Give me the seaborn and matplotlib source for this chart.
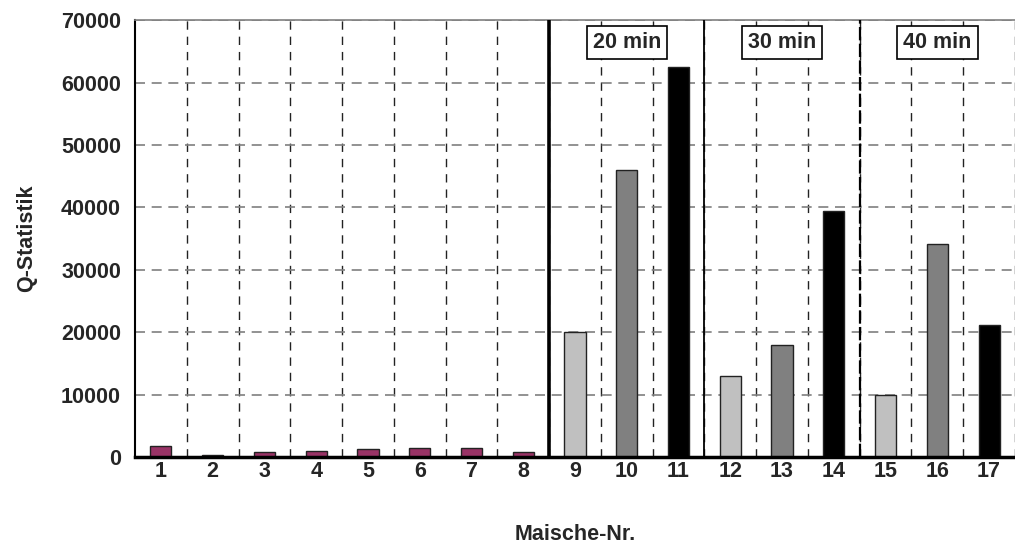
import numpy as np
import pandas as pd
import seaborn as sns
import matplotlib.pyplot as plt

# Mash numbers and Q-statistic per mash
maische = [str(i) for i in range(1, 18)]
q_statistik = [1700, 300, 800, 1000, 1300, 1500, 1500, 800,
               20000, 46000, 62500,
               13000, 18000, 39500,
               10000, 34200, 21200]
bar_colors = ["#993366"] * 8 + ["#C0C0C0", "#808080", "#000000"] * 3
group_labels = ["20 min", "30 min", "40 min"]
group_centers = ["10", "13", "16"]
y_ticks = [0, 10000, 20000, 30000, 40000, 50000, 60000, 70000]

sns.set_style("white")
plt.rcParams["font.family"] = ["Liberation Sans", "DejaVu Sans"]
plt.rcParams["font.weight"] = "bold"
FS = 15.5

df = pd.DataFrame({"Maische-Nr.": maische, "Q-Statistik": q_statistik})

fig = plt.figure(figsize=(10.15, 5.48), dpi=100)
ax = fig.add_axes([0.133, 0.166, 0.867, 0.797])

sns.barplot(data=df, x="Maische-Nr.", y="Q-Statistik", hue="Maische-Nr.",
            palette=bar_colors, legend=False, width=0.41, ax=ax,
            edgecolor="#222222", linewidth=1.0, saturation=1)

n = len(maische)
ax.set_xlim(-0.5, 16.31)
ax.set_ylim(0, 70000)
ax.set_yticks(y_ticks)
ax.set_yticklabels([str(v) for v in y_ticks], fontsize=FS, fontweight="bold")
ax.tick_params(axis="y", direction="out", length=7, width=1.3, color="black", pad=3)

# category labels at centres, tick marks at the category boundaries
ax.set_xticks(range(n))
ax.set_xticklabels(maische, fontsize=FS, fontweight="bold")
ax.tick_params(axis="x", which="major", length=0, pad=3)
bounds = np.arange(-0.5, n, 1.0)
ax.set_xticks(bounds, minor=True)
ax.tick_params(axis="x", which="minor", direction="out", length=9, width=2, color="black")

# dashed grid
for b in bounds[1:]:
    ax.axvline(b, color="#222222", lw=1.0, ls=(0, (6, 5)), zorder=0.5)
for v in y_ticks[1:]:
    ax.axhline(v, color="#7f7f7f", lw=1.2, ls=(0, (6, 4)), zorder=0.5)

# separators between the experiment groups
ax.axvline(7.5, color="black", lw=2.6, zorder=3)
ax.axvline(10.5, color="black", lw=1.3, zorder=3)
ax.axvline(13.5, color="black", lw=1.6, ls=(0, (6, 1.5)), zorder=3)

for lab, c in zip(group_labels, group_centers):
    ax.text(maische.index(c), 66400, lab, ha="center", va="center",
            fontsize=FS, fontweight="bold", zorder=5,
            bbox=dict(boxstyle="square,pad=0.28", facecolor="white",
                      edgecolor="black", linewidth=1.2))

ax.spines["right"].set_visible(False)
ax.spines["top"].set_color("#808080")
ax.spines["top"].set_linewidth(1.2)
ax.spines["left"].set_color("black")
ax.spines["left"].set_linewidth(1.5)
ax.spines["bottom"].set_color("black")
ax.spines["bottom"].set_linewidth(2.5)
ax.spines["bottom"].set_zorder(4)

ax.set_xlabel("Maische-Nr.", fontsize=FS, fontweight="bold", labelpad=30)
ax.set_ylabel("Q-Statistik", fontsize=FS, fontweight="bold", labelpad=17)

fig.savefig("out.png", dpi=100)
